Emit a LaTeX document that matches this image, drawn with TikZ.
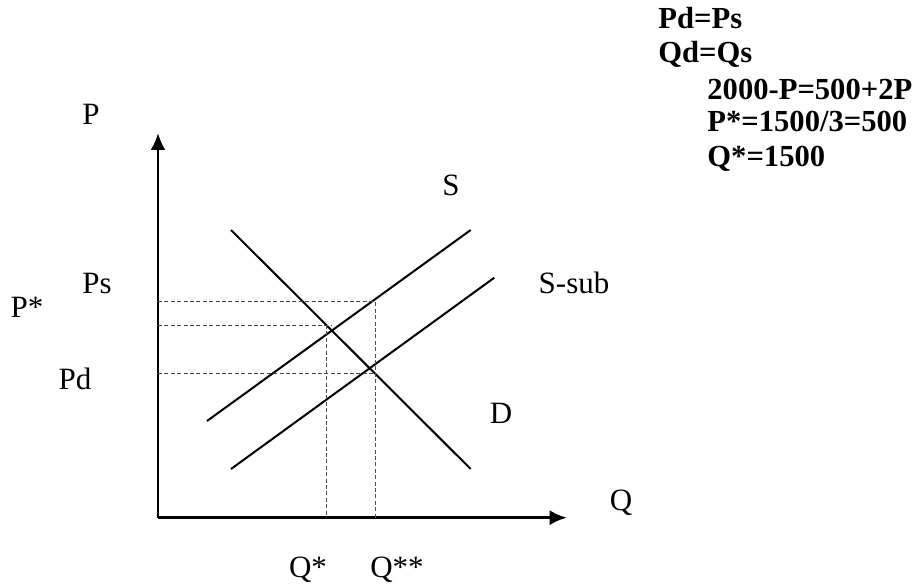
\documentclass[tikz,border=0pt]{standalone}
\usepackage{fontspec}
\setmainfont{Liberation Serif}
\usetikzlibrary{positioning,arrows.meta}

\begin{document}
\begin{tikzpicture}[
    x=0.5pt, y=-0.5pt,
    axis/.style={-{Latex[length=8.5pt,width=7.5pt]}, line width=1.3pt},
    curve/.style={line width=1pt},
    guide/.style={gray!60!black, line width=0.5pt, dash pattern=on 2pt off 1.2pt},
    lbl/.style={font=\fontsize{15.5}{18}\selectfont, inner sep=0pt, anchor=base},
    eqn/.style={font=\fontsize{15.3}{18}\selectfont\bfseries, inner sep=0pt, anchor=base west},
]
\useasboundingbox (0,0) rectangle (924,587);

% Axes
\coordinate (O) at (158,517.7);
\coordinate (ytop) at (158,133);
\coordinate (xend) at (566.7,517.7);
\draw[axis] (O) -- (ytop);
\draw[axis] (O) -- (xend);

% Supply, subsidised supply and demand
\coordinate (S1) at (207,421);
\coordinate (S2) at (470.7,230);
\coordinate (B1) at (231,469);
\coordinate (B2) at (494.3,277.7);
\coordinate (D1) at (231,230);
\coordinate (D2) at (470.7,469);
\draw[curve] (S1) -- (S2);
\draw[curve] (B1) -- (B2);
\draw[curve] (D1) -- (D2);

% Guide lines
\coordinate (ps) at (375,301.7);
\coordinate (pstar) at (331.7,325);
\coordinate (qstar) at (326.7,325);
\coordinate (pd) at (375,373.3);
\draw[guide] (O |- ps) -- (ps) -- (ps |- O);
\draw[guide] (O |- pstar) -- (pstar);
\draw[guide] (qstar) -- (qstar |- O);
\draw[guide] (O |- pd) -- (pd);

% Labels
\node (ylabel) [lbl] at (91,125) {P};
\node (xlabel) [lbl] at (621,510) {Q};
\node (slabel) [lbl] at (451,196) {S};
\node (ssublabel) [lbl] at (574,293) {S-sub};
\node (dlabel) [lbl] at (501,423) {D};
\node (pslabel) [lbl] at (97,293) {Ps};
\node (pstarlabel) [lbl] at (27,317) {P*};
\node (pdlabel) [lbl] at (75,389) {Pd};
\node (qstarlabel) [lbl] at (308,577) {Q*};
\node (qsslabel) [lbl] at (397,577) {Q**};

% Equilibrium conditions
\node (eq1) [eqn] at (658,29) {Pd=Ps};
\node (eq2) [eqn] at (658,63) {Qd=Qs};
\node (eq3) [eqn] at (707,100) {2000-P=500+2P};
\node (eq4) [eqn] at (707,132) {P*=1500/3=500};
\node (eq5) [eqn] at (707,167) {Q*=1500};

\end{tikzpicture}
\end{document}
